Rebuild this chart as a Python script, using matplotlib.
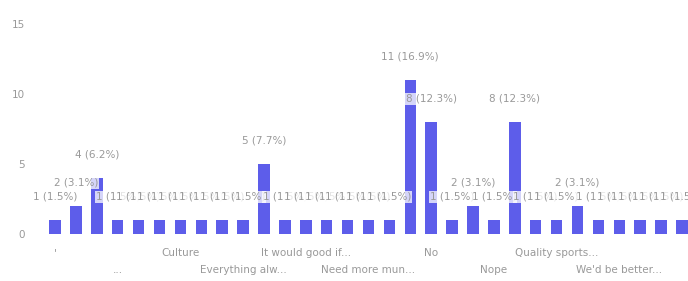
import numpy as np
import matplotlib
matplotlib.use("Agg")
import matplotlib.pyplot as plt

# answers (sorted), response counts
categories = ["'", "-", "--", "...", "All good", "Better food", "Culture",
              "Deal with it", "Don't know", "Everything alw...", "Good",
              "Great", "It would good if...", "Less noise", "More events",
              "Need more mun...", "Nice", "Nil", "No", "Non", "None",
              "Nope", "Nothing", "Parking", "Quality sports...", "Safer roads",
              "Same", "We'd be better...", "Yes", "Yes please", "Yup"]
counts = [1, 2, 4, 1, 1, 1, 1, 1, 1, 1, 5, 1, 1, 1, 1, 1, 1, 11, 8, 1,
          2, 1, 8, 1, 1, 2, 1, 1, 1, 1, 1]
y_ticks = [0, 5, 10, 15]

total = sum(counts)
x = np.arange(len(categories))

bar_color = "#5d5dea"
text_color = "#999999"

fig = plt.figure(figsize=(6.88, 2.81), dpi=100)
ax = fig.add_axes([40 / 688, 47 / 281, 648 / 688, 224 / 281])

ax.bar(x, counts, width=0.55, color=bar_color, zorder=2)

# value labels above every bar, white box so they sit over neighbours
for i, c in enumerate(counts):
    label = "%d (%.1f%%)" % (c, 100.0 * c / total)
    ax.annotate(label, (i, c), xytext=(0, 13), textcoords="offset points",
                ha="center", va="bottom", fontsize=7.5, color=text_color,
                bbox={"facecolor": "white", "edgecolor": "none",
                      "alpha": 0.75, "pad": 0.5}, zorder=3)

ax.set_xlim(-0.72, 30.29)
ax.set_ylim(0, 16)
ax.set_yticks(y_ticks)
ax.set_yticklabels([str(t) for t in y_ticks], fontsize=7.5, color=text_color)

# every third category label, staggered on two rows
shown = [i for i in range(len(categories)) if i % 3 == 0 and i < 30]
ax.set_xticks(shown)
tick_labels = ax.set_xticklabels([categories[i] for i in shown],
                                 fontsize=7.5, color=text_color)
for k, t in enumerate(tick_labels):
    if k % 2 == 1:
        t.set_y(-0.075)

ax.tick_params(axis="y", length=0, pad=11)
ax.tick_params(axis="x", length=0, pad=10)
for s in ax.spines.values():
    s.set_visible(False)

plt.savefig("out.png", dpi=100, facecolor="white")
